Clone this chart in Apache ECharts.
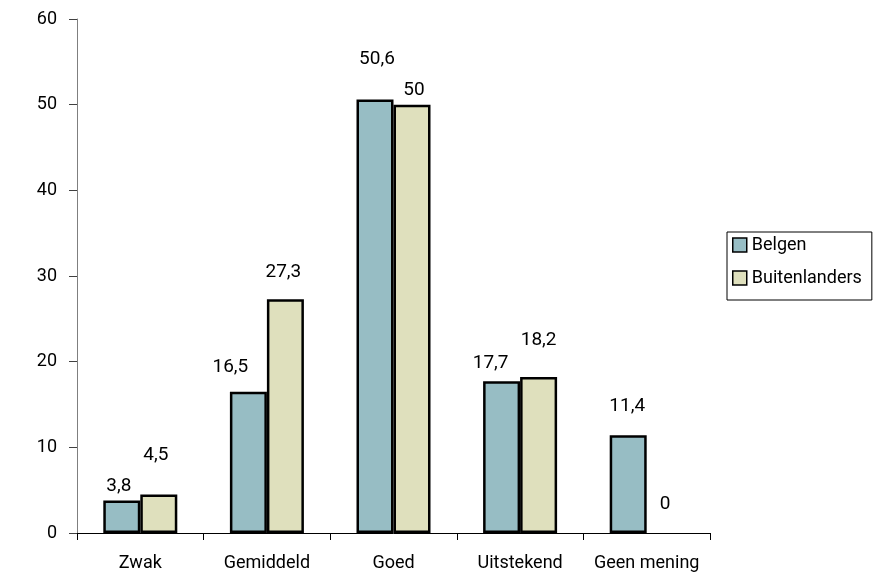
<!DOCTYPE html>
<html>
<head>
<meta charset="utf-8">
<script src="https://cdn.jsdelivr.net/npm/echarts@6/dist/echarts.min.js"></script>
<style>
  html, body { margin: 0; padding: 0; background: #fff; }
  #chart { width: 877px; height: 580px; }
</style>
</head>
<body>
<div id="chart"></div>
<script>
// Beoordeling: percentages per antwoordcategorie
const categories = ['Zwak', 'Gemiddeld', 'Goed', 'Uitstekend', 'Geen mening'];
const belgen = [3.8, 16.5, 50.6, 17.7, 11.4];
const buitenlanders = [4.5, 27.3, 50, 18.2, 0];
const yTicks = [0, 10, 20, 30, 40, 50, 60];

// Label placement per bar: [horizontal shift, distance above the bar]
const belgenLabelPos = [[-3, 5], [-18, 15], [2, 30.5], [-11, 8.5], [-1, 19.5]];
const buitenLabelPos = [[-3, 30], [-2, 17.5], [2, 4.5], [0, 27.5], [0, 19]];

const FONT = 'Roboto';

function fmt(v) {
  return String(v).replace('.', ',');
}

function buildData(values, pos) {
  return values.map((v, i) => ({
    value: v,
    // a zero-height bar leaves no outline on the axis
    itemStyle: v === 0 ? { borderWidth: 0 } : undefined,
    label: { distance: pos[i][1], offset: [pos[i][0], 0] }
  }));
}

const chart = echarts.init(document.getElementById('chart'), null, { renderer: 'canvas' });

chart.setOption({
  animation: false,
  backgroundColor: '#ffffff',
  textStyle: { fontFamily: FONT },
  grid: { left: 77, top: 19, right: 167, bottom: 47, containLabel: false },
  legend: {
    orient: 'vertical',
    left: 727,
    top: 232,
    padding: [4, 10, 13, 5],
    itemGap: 15,
    itemWidth: 14,
    itemHeight: 14,
    icon: 'rect',
    borderColor: '#000',
    borderWidth: 1,
    backgroundColor: '#fff',
    textStyle: { fontFamily: FONT, fontSize: 18, color: '#000' },
    itemStyle: { borderColor: '#000', borderWidth: 1.5 },
    data: ['Belgen', 'Buitenlanders']
  },
  xAxis: {
    type: 'category',
    data: categories,
    axisLine: { lineStyle: { color: '#000', width: 1 } },
    axisTick: { show: true, length: 7, inside: false, interval: 0, lineStyle: { color: '#000' } },
    axisLabel: { margin: 21, interval: 0, fontFamily: FONT, fontSize: 18, color: '#000' },
    splitLine: { show: false }
  },
  yAxis: {
    type: 'value',
    min: yTicks[0],
    max: yTicks[yTicks.length - 1],
    interval: yTicks[1] - yTicks[0],
    axisLine: { show: true, lineStyle: { color: '#7f7f7f', width: 1 } },
    axisTick: { show: true, length: 8, lineStyle: { color: '#404040' } },
    axisLabel: { margin: 20, fontFamily: FONT, fontSize: 18, color: '#000' },
    splitLine: { show: false }
  },
  series: [
    {
      name: 'Belgen',
      type: 'bar',
      barWidth: 37,
      barGap: '0%',
      data: buildData(belgen, belgenLabelPos),
      itemStyle: { color: '#97bdc4', borderColor: '#000', borderWidth: 2.5 },
      label: {
        show: true,
        position: 'top',
        fontFamily: FONT,
        fontSize: 19,
        color: '#000',
        formatter: p => fmt(p.value)
      }
    },
    {
      name: 'Buitenlanders',
      type: 'bar',
      barWidth: 37,
      barGap: '0%',
      data: buildData(buitenlanders, buitenLabelPos),
      itemStyle: { color: '#dfe0bd', borderColor: '#000', borderWidth: 2.5 },
      label: {
        show: true,
        position: 'top',
        fontFamily: FONT,
        fontSize: 19,
        color: '#000',
        formatter: p => fmt(p.value)
      }
    }
  ]
});
</script>
</body>
</html>
